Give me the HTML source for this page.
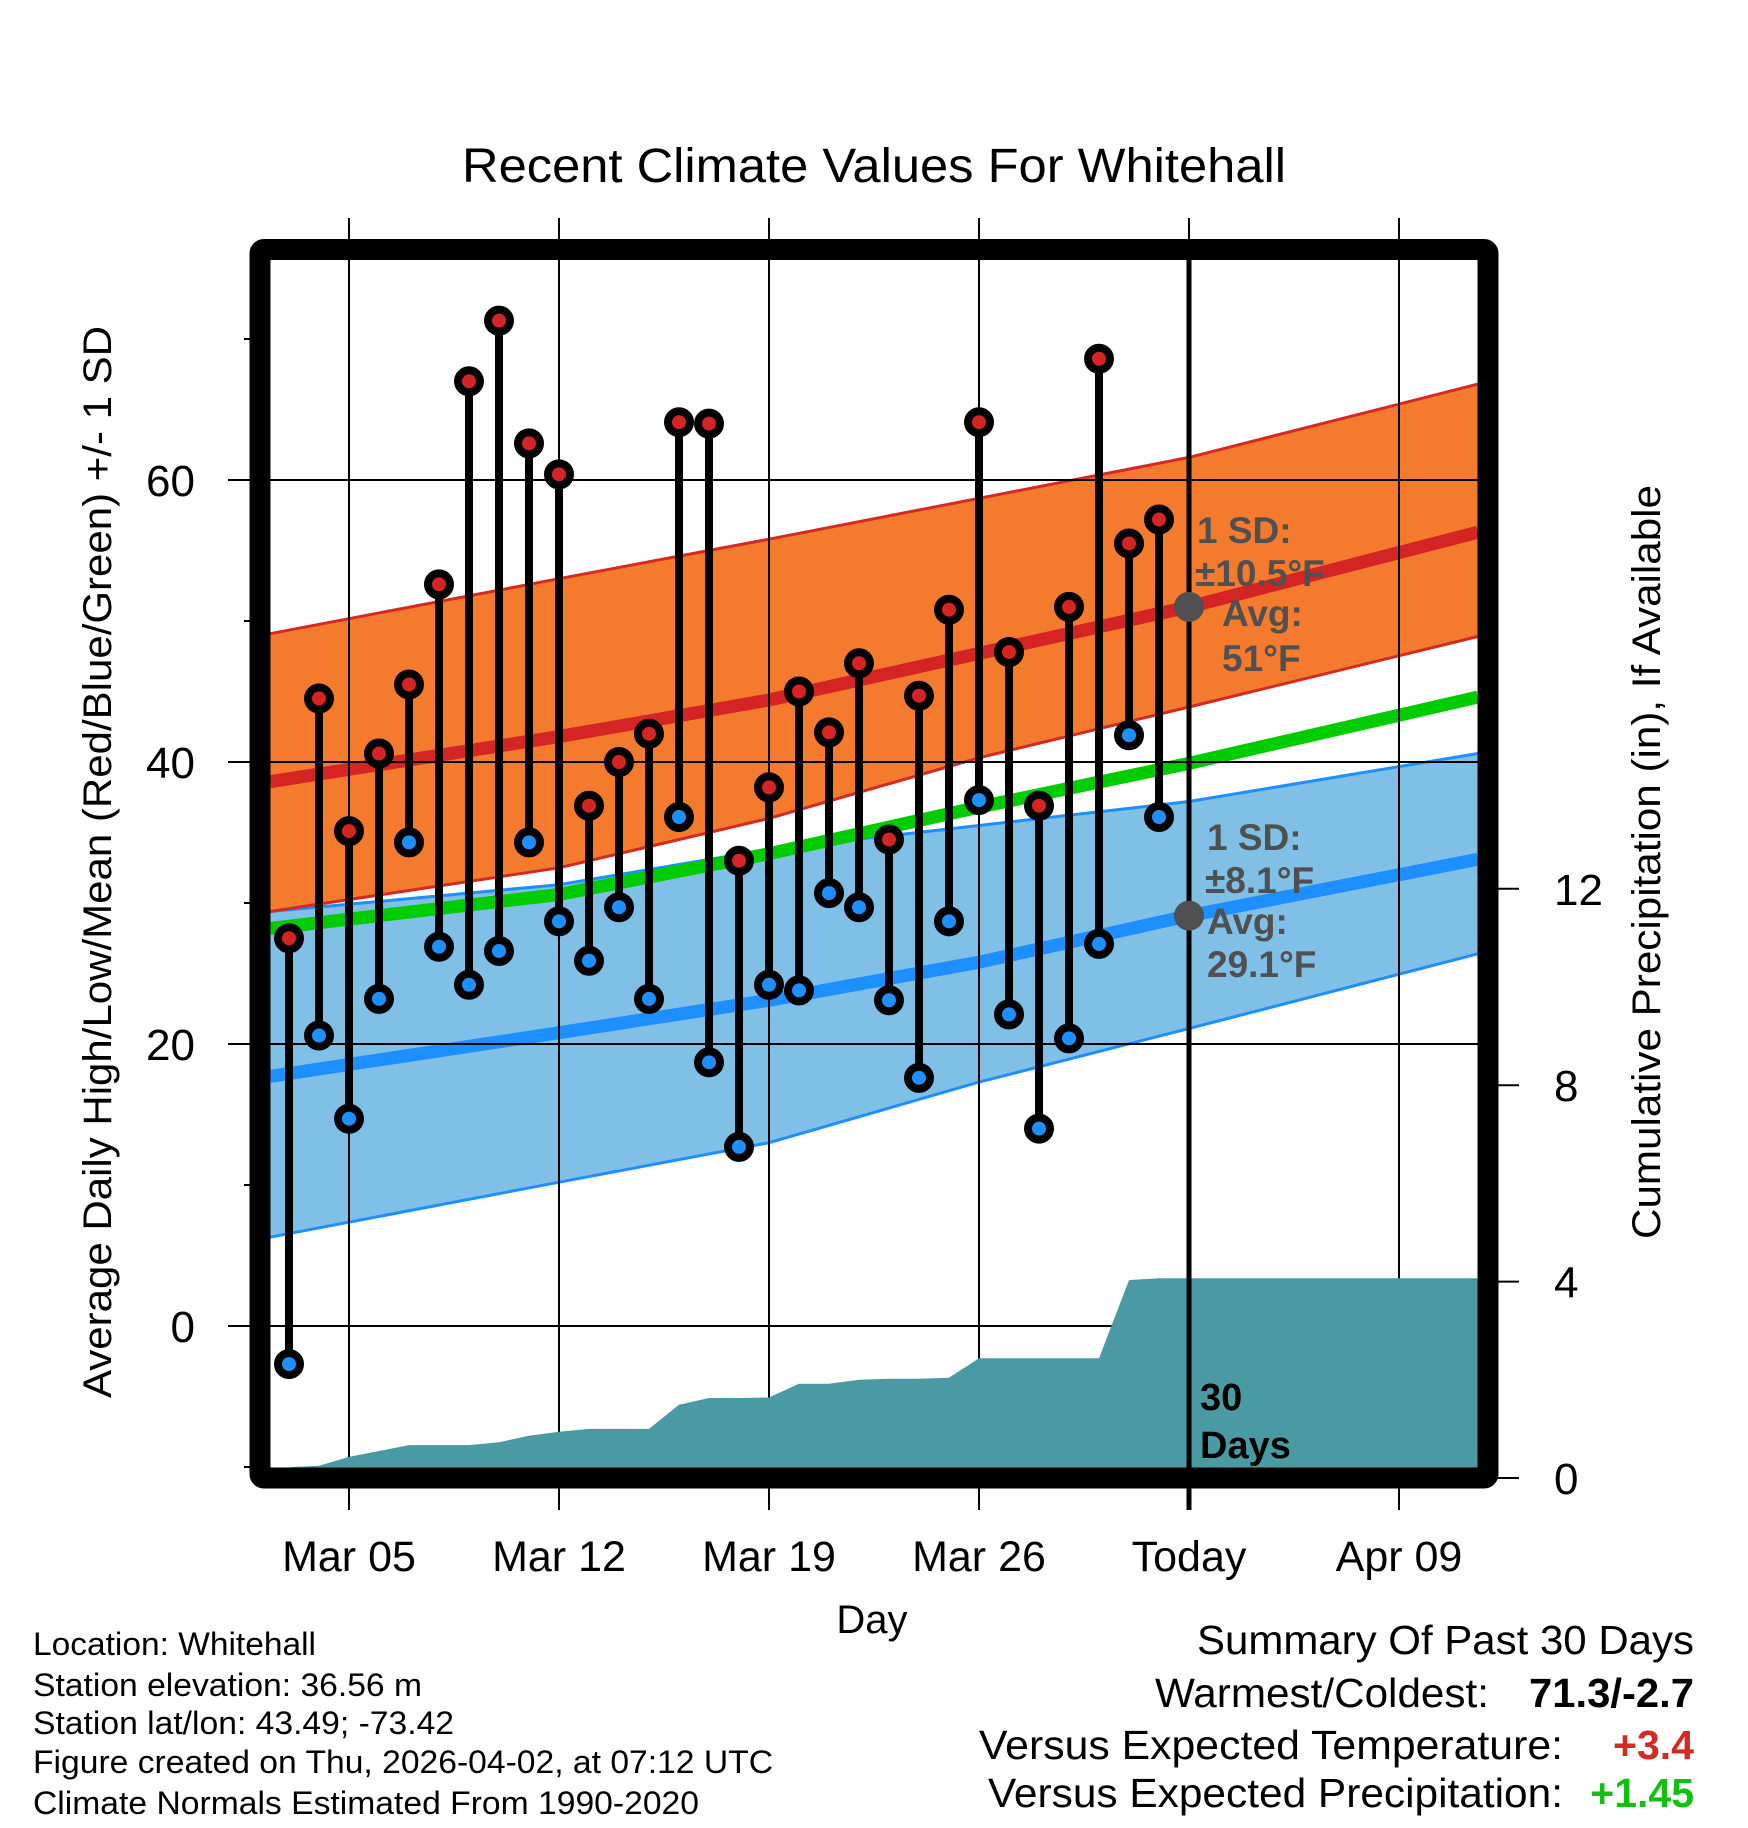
<!DOCTYPE html>
<html><head><meta charset="utf-8"><style>
html,body{margin:0;padding:0;background:#fff;}
svg{display:block;font-family:"Liberation Sans",Arial,sans-serif;}
</style></head><body>
<svg id="chart" width="1748" height="1828" viewBox="0 0 1748 1828" xmlns="http://www.w3.org/2000/svg">
<text x="874" y="182" font-size="48" text-anchor="middle" textLength="824" lengthAdjust="spacingAndGlyphs">Recent Climate Values For Whitehall</text>
<g id="bands"></g>
<g id="grid"></g>
<g id="precip"></g>
<g id="stems"></g>
<g id="overlay"></g>
<g id="axes"></g>
<text transform="translate(111,862) rotate(-90)" font-size="40" text-anchor="middle" textLength="1072" lengthAdjust="spacingAndGlyphs">Average Daily High/Low/Mean (Red/Blue/Green) +/- 1 SD</text>
<text transform="translate(1660,862) rotate(-90)" font-size="40" text-anchor="middle" textLength="754" lengthAdjust="spacingAndGlyphs">Cumulative Precipitation (in), If Available</text>
<text x="872" y="1633" font-size="40" text-anchor="middle">Day</text>
<g font-size="32">
<text x="33" y="1655" textLength="283" lengthAdjust="spacingAndGlyphs">Location: Whitehall</text>
<text x="33" y="1696" textLength="389" lengthAdjust="spacingAndGlyphs">Station elevation: 36.56 m</text>
<text x="33" y="1734" textLength="421" lengthAdjust="spacingAndGlyphs">Station lat/lon: 43.49; -73.42</text>
<text x="33" y="1773" textLength="740" lengthAdjust="spacingAndGlyphs">Figure created on Thu, 2026-04-02, at 07:12 UTC</text>
<text x="33" y="1814" textLength="666" lengthAdjust="spacingAndGlyphs">Climate Normals Estimated From 1990-2020</text>
</g>
<g font-size="41">
<text x="1197" y="1654" textLength="497" lengthAdjust="spacingAndGlyphs">Summary Of Past 30 Days</text>
<text x="1155" y="1707" textLength="334" lengthAdjust="spacingAndGlyphs">Warmest/Coldest:</text>
<text x="1529" y="1707" font-weight="bold" textLength="165" lengthAdjust="spacingAndGlyphs">71.3/-2.7</text>
<text x="979" y="1759" textLength="584" lengthAdjust="spacingAndGlyphs">Versus Expected Temperature:</text>
<text x="1694" y="1759" text-anchor="end" font-weight="bold" fill="#d42a22">+3.4</text>
<text x="988" y="1807" textLength="575" lengthAdjust="spacingAndGlyphs">Versus Expected Precipitation:</text>
<text x="1694" y="1807" text-anchor="end" font-weight="bold" fill="#11c011">+1.45</text>
</g>
</svg>
<script>
// ---- data ----
const days = ["Mar 03","Mar 04","Mar 05","Mar 06","Mar 07","Mar 08","Mar 09","Mar 10","Mar 11","Mar 12","Mar 13","Mar 14","Mar 15","Mar 16","Mar 17","Mar 18","Mar 19","Mar 20","Mar 21","Mar 22","Mar 23","Mar 24","Mar 25","Mar 26","Mar 27","Mar 28","Mar 29","Mar 30","Mar 31","Apr 01"];
const highs = [27.5,44.5,35.1,40.6,45.5,52.6,67.0,71.3,62.6,60.4,36.9,40.0,42.0,64.1,64.0,33.0,38.2,45.0,42.1,47.0,34.5,44.7,50.8,64.1,47.8,36.9,51.0,68.6,55.5,57.2];
const lows = [-2.7,20.6,14.7,23.2,34.3,26.9,24.2,26.6,34.3,28.7,25.9,29.7,23.2,36.1,18.7,12.7,24.2,23.8,30.7,29.7,23.1,17.6,28.7,37.3,22.1,14.0,20.4,27.1,41.9,36.1];
const precip = [0.22,0.25,0.43,0.55,0.67,0.67,0.67,0.73,0.86,0.94,1.0,1.0,1.0,1.49,1.63,1.63,1.64,1.92,1.92,2.0,2.02,2.02,2.04,2.44,2.44,2.44,2.44,2.44,4.03,4.07];
const normDays = [-0.63, 9, 16, 23, 30, 39.63];
const normHigh = [38.6, 41.8, 44.4, 47.7, 51.0, 56.3];
const normHighUpper = [49.1, 53.0, 55.8, 58.7, 61.6, 66.8];
const normHighLower = [29.4, 32.5, 36.0, 40.3, 43.9, 48.9];
const normMean = [28.2, 30.6, 33.5, 36.8, 39.9, 44.6];
const normLow = [17.7, 20.8, 23.1, 25.8, 29.1, 33.1];
const normLowUpper = [29.4, 31.3, 33.8, 35.5, 37.2, 40.6];
const normLowLower = [6.3, 10.2, 13.0, 17.3, 21.1, 26.4];
const xTickDays = [2, 9, 16, 23, 30, 37];
const xTickLabels = ["Mar 05","Mar 12","Mar 19","Mar 26","Today","Apr 09"];
const yTicks = [0, 20, 40, 60];
const yMinor = [-10, 10, 30, 50, 70];
const pTicks = [0, 4, 8, 12];
const todayIndex = 30;

// ---- scales ----
const NS = "http://www.w3.org/2000/svg";
const X0 = 270, X1 = 1478, Y0 = 260, Y1 = 1468;
const xs = d => 289 + d * 30;
const ys = v => 1326 - v * 14.1;
const ps = p => 1478 - p * 49.1;
function mk(tag, attrs, parent) {
  const e = document.createElementNS(NS, tag);
  for (const k in attrs) e.setAttribute(k, attrs[k]);
  parent.appendChild(e); return e;
}
const bands = document.getElementById('bands');
const grid = document.getElementById('grid');
const pg = document.getElementById('precip');
const sg = document.getElementById('stems');
const ov = document.getElementById('overlay');
const ax = document.getElementById('axes');
const pts = arr => normDays.map((d, i) => xs(d).toFixed(1) + ',' + ys(arr[i]).toFixed(1));

function band(up, lo, fill, edge, name) {
  const p = mk('polygon', {points: pts(up).concat(pts(lo).reverse()).join(' '), fill: fill}, bands);
  
  
  [up, lo].forEach((a, k) => {
    const l = mk('polyline', {points: pts(a).join(' '), fill: 'none', stroke: edge, 'stroke-width': 3, 'stroke-linejoin': 'round'}, bands);
    
    
  });
}
band(normLowUpper, normLowLower, '#80bfe6', '#1e8fff', 'low-sd');
band(normHighUpper, normHighLower, '#f47a2e', '#d42a22', 'high-sd');
[[normMean, '#00cc00', 'mean-normal-line'], [normHigh, '#d42424', 'high-normal-line'], [normLow, '#1e8fff', 'low-normal-line']].forEach(([a, c, n]) => {
  const l = mk('polyline', {points: pts(a).join(' '), fill: 'none', stroke: c, 'stroke-width': 13, 'stroke-linejoin': 'round'}, bands);
  
  
});

// grid
xTickDays.forEach((d, i) => {
  const l = mk('line', {x1: xs(d), x2: xs(d), y1: 218, y2: 1510, stroke: '#000', 'stroke-width': 2}, grid);
  
  
  const t = mk('text', {x: xs(d), y: 1571, 'font-size': 43, 'text-anchor': 'middle'}, ax);
  t.textContent = xTickLabels[i];
  
  
});
yTicks.forEach(v => {
  const l = mk('line', {x1: 228, x2: X1, y1: ys(v), y2: ys(v), stroke: '#000', 'stroke-width': 2}, grid);
  
  
  const t = mk('text', {x: 195, y: ys(v) + 16, 'font-size': 44, 'text-anchor': 'end'}, ax);
  t.textContent = v;
  
  
});
yMinor.forEach(v => {
  const l = mk('line', {x1: 244, x2: 260, y1: ys(v), y2: ys(v), stroke: '#000', 'stroke-width': 2}, ax);
  
  
});
pTicks.forEach(p => {
  const l = mk('line', {x1: 1488, x2: 1519, y1: ps(p), y2: ps(p), stroke: '#000', 'stroke-width': 2}, ax);
  
  
  const t = mk('text', {x: 1554, y: ps(p) + 16, 'font-size': 44}, ax);
  t.textContent = p;
  
  
});

// precip area
let pp = [xs(0) + ',' + Y1];
precip.forEach((p, i) => pp.push(xs(i) + ',' + ps(p).toFixed(1)));
pp.push(X1 + ',' + ps(precip[precip.length - 1]).toFixed(1));
pp.push(X1 + ',' + Y1);
const pa = mk('polygon', {points: pp.join(' '), fill: '#4a9aa3'}, pg);



// stems
highs.forEach((h, i) => {
  const x = xs(i);
  const s = mk('line', {x1: x, x2: x, y1: ys(h), y2: ys(lows[i]), stroke: '#000', 'stroke-width': 8}, sg);
  
  
  const c1 = mk('circle', {cx: x, cy: ys(h), r: 11, fill: '#d42424', stroke: '#000', 'stroke-width': 8}, sg);
  
  
  const c2 = mk('circle', {cx: x, cy: ys(lows[i]), r: 11, fill: '#1e8fff', stroke: '#000', 'stroke-width': 8}, sg);
  
  
});

// today line and annotations
const tx = xs(todayIndex);
const tl = mk('line', {x1: tx, x2: tx, y1: Y0, y2: 1510, stroke: '#000', 'stroke-width': 5}, ov);


const d1 = mk('circle', {cx: tx, cy: ys(normHigh[4]), r: 15, fill: '#505050'}, ov);


const d2 = mk('circle', {cx: tx, cy: ys(normLow[4]), r: 15, fill: '#505050'}, ov);


function ann(lines, name) {
  const g = mk('g', {'font-size': 37, 'font-weight': 'bold', fill: '#505050'}, ov);
  
  
  lines.forEach(([x, y, s]) => { const t = mk('text', {x: x, y: y}, g); t.textContent = s; });
}
ann([[1197, 543, '1 SD:'], [1195, 586, '\u00b110.5\u00b0F'], [1222, 626, 'Avg:'], [1222, 671, '51\u00b0F']], 'high-annotation');
ann([[1207, 850, '1 SD:'], [1205, 893, '\u00b18.1\u00b0F'], [1207, 934, 'Avg:'], [1207, 977, '29.1\u00b0F']], 'low-annotation');
const dg = mk('g', {'font-size': 38, 'font-weight': 'bold', fill: '#000'}, ov);


mk('text', {x: 1200, y: 1410}, dg).textContent = '30';
mk('text', {x: 1200, y: 1458}, dg).textContent = 'Days';

// frame
const fr = mk('rect', {x: 260, y: 249.5, width: 1228, height: 1228.5, fill: 'none', stroke: '#000', 'stroke-width': 21, rx: 4}, ax);


</script>
</body></html>
